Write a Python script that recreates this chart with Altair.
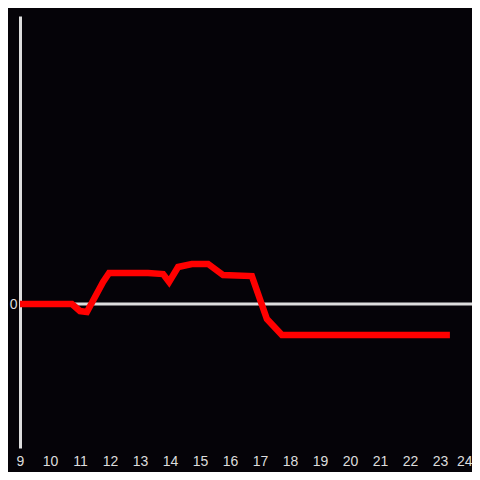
import altair as alt
import pandas as pd

hours = [9.0, 10.73, 11.0, 11.23, 11.77, 11.97, 13.27, 13.77, 13.97, 14.27, 14.73, 15.27, 15.77, 16.73, 17.23, 17.73, 23.33]
values = [0.0, 0.0, -0.049, -0.056, 0.153, 0.215, 0.215, 0.208, 0.153, 0.257, 0.278, 0.278, 0.201, 0.194, -0.104, -0.215, -0.215]
x_ticks = list(range(9, 25))

df = pd.DataFrame({"hour": hours, "value": values})
zero = pd.DataFrame({"v": [0]})

W = 452
xscale = alt.Scale(domain=[9, 9 + W / 30], nice=False, zero=False)
yscale = alt.Scale(domain=[-1, 2], nice=False, zero=False)

line = alt.Chart(df).mark_line(color="#ff0000", strokeWidth=6.5, strokeJoin="miter", clip=False).encode(
    x=alt.X("hour:Q", scale=xscale,
            axis=alt.Axis(values=x_ticks, title=None, grid=False, ticks=False, domain=False,
                          format="d",
                          labelColor="#dddddd", labelFontSize=14, labelPadding=6,
                          labelFont="Liberation Sans", labelFlush=False,
                          labelAlign={"expr": "datum.value == 24 ? 'right' : 'center'"},
                          labelOffset={"expr": "datum.value == 24 ? 2 : 0"})),
    y=alt.Y("value:Q", scale=yscale,
            axis=alt.Axis(values=[0], title=None, grid=False, ticks=False, domain=True,
                          format="d",
                          domainColor="#dddddd", domainWidth=3,
                          labelColor="#dddddd", labelFontSize=14, labelPadding=3,
                          labelFont="Liberation Sans")),
)

rule = alt.Chart(zero).mark_rule(color="#dddddd", strokeWidth=3).encode(
    y=alt.Y("v:Q", scale=yscale),
)

chart = alt.layer(rule, line).properties(
    width=W, height=432, background="#050308",
    padding={"left": 12, "top": 8, "right": 0, "bottom": 24},
    autosize=alt.AutoSizeParams(type="none"),
).configure_view(strokeWidth=0)

chart.save("out.html", embed_options={"renderer": "svg", "actions": False})
